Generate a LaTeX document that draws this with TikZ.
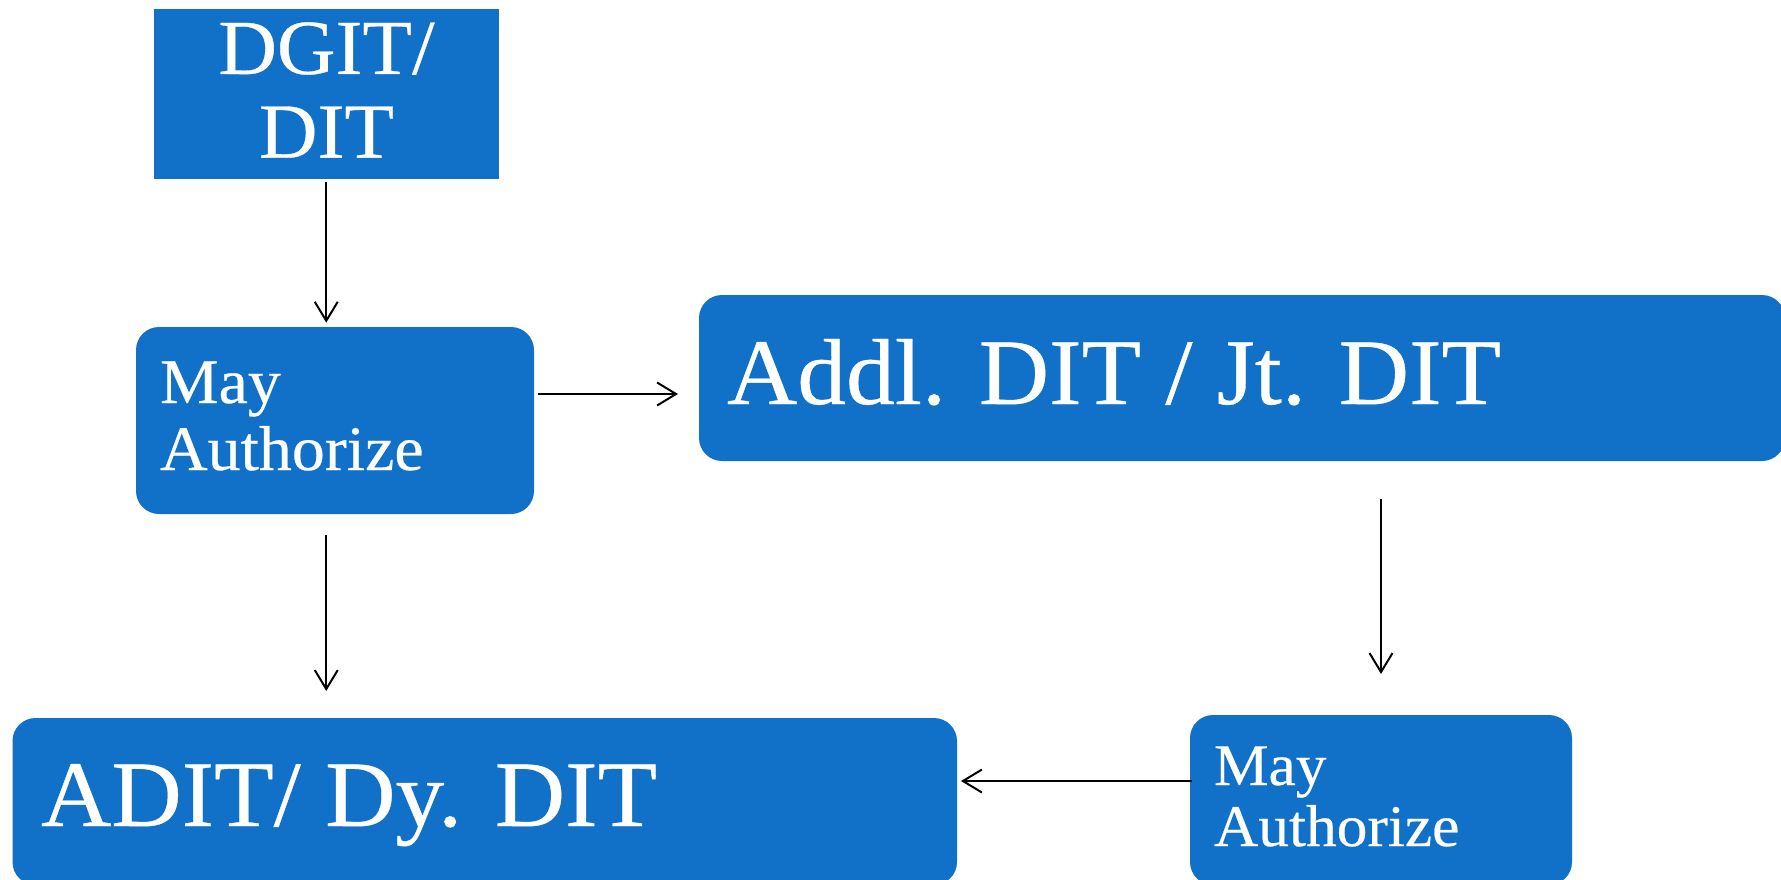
\documentclass[tikz,border=0pt]{standalone}
\usepackage{fontspec}
\setmainfont[FakeStretch=1.04,FakeBold=0.4]{Liberation Serif}
\usetikzlibrary{arrows.meta,calc}
\definecolor{boxblue}{RGB}{17,112,199}
\begin{document}
\begin{tikzpicture}[x=1pt,y=-1pt,
  box/.style={fill=boxblue,draw=none,inner sep=0pt,outer sep=0pt,anchor=north west},
  rbox/.style={box,rounded corners=23pt},
  arr/.style={draw=black,line width=2pt,-{Straight Barb[length=19pt,width=23pt,line width=2pt]}},
  txt/.style={text=white,inner sep=0pt,outer sep=0pt},
  bigtxt/.style={txt,font=\fontsize{93.7pt}{100pt}\selectfont,anchor=base west},
  dgittxt/.style={txt,font=\fontsize{78pt}{84pt}\selectfont,anchor=base},
  mayA/.style={txt,font=\fontsize{63.4pt}{67pt}\selectfont,anchor=base west},
  mayB/.style={txt,font=\fontsize{59pt}{61pt}\selectfont,anchor=base west}]
\useasboundingbox (0,0) rectangle (1781,880);
\clip (0,0) rectangle (1781,880);
% boxes
\node[box,minimum width=345.5pt,minimum height=170pt] (dgit) at (153.5,9.5) {};
\node[rbox,minimum width=398pt,minimum height=187pt] (b1) at (136,327) {};
\node[rbox,minimum width=1086pt,minimum height=166pt] (addl) at (699,295) {};
\node[rbox,minimum width=382pt,minimum height=170pt] (box2) at (1190,715) {};
\node[rbox,minimum width=944.5pt,minimum height=167pt] (adit) at (12.5,718) {};
% texts
\node[dgittxt] (t1a) at (326.5,74) {DGIT/};
\node[dgittxt] (t1b) at (326.5,157.6) {DIT};
\node[mayA] (t2a) at (160,403) {May};
\node[mayA] (t2b) at (160,470) {Authorize};
\node[bigtxt] (t3) at (727,404) {Addl. DIT / Jt. DIT};
\node[mayB] (t4a) at (1214,785) {May};
\node[mayB] (t4b) at (1214,846) {Authorize};
\node[bigtxt] (t5) at (41,826) {ADIT/ Dy. DIT};
% connectors
\draw[arr,shorten <=3pt,shorten >=4.3pt] (dgit.south) -- (dgit.south |- b1.north);
\draw[arr,shorten <=4pt,shorten >=21pt] (b1.east |- 0,394) -- (addl.west |- 0,394);
\draw[arr,shorten <=38pt,shorten >=41pt] (box2.north |- addl.south) -- (box2.north);
\draw[arr,shorten <=21pt,shorten >=27pt] (dgit.south |- b1.south) -- (dgit.south |- adit.north);
\draw[arr,shorten <=-2pt,shorten >=4pt] (box2.west |- 0,781) -- (adit.east |- 0,781);
\end{tikzpicture}
\end{document}
